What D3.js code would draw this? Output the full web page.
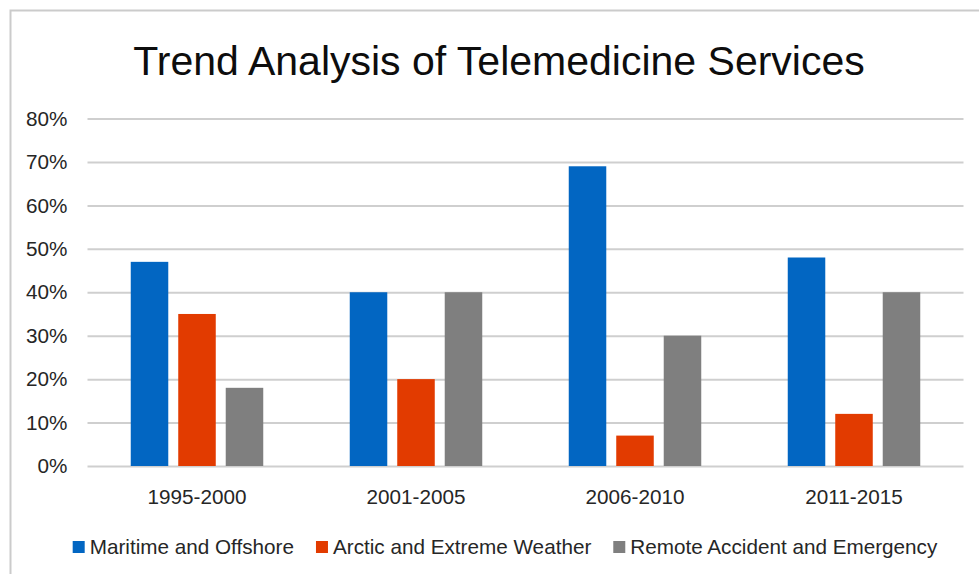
<!DOCTYPE html>
<html lang="en">
<head>
<meta charset="UTF-8">
<title>Trend Analysis of Telemedicine Services</title>
<script src="https://cdn.jsdelivr.net/npm/d3@7"></script>
<style>
    body{ margin:0; background:#fff; }
    .axis text{ font-family: "Liberation Sans", Arial, sans-serif; fill:#262626; }
    .grid line{ stroke:#cfcfcf; stroke-width:2; }
    .grid path{ display:none; }
</style>
</head>
<body>
<script>
    var width = 979, height = 574;

    var categories = ["1995-2000", "2001-2005", "2006-2010", "2011-2015"];
    var seriesNames = ["Maritime and Offshore", "Arctic and Extreme Weather", "Remote Accident and Emergency"];
    var maritime = [0.47, 0.40, 0.69, 0.48];
    var arctic = [0.35, 0.20, 0.07, 0.12];
    var remote = [0.18, 0.40, 0.30, 0.40];
    var colors = ["#0266c2", "#e23b00", "#7f7f7f"];
    var yTicks = [0, 0.1, 0.2, 0.3, 0.4, 0.5, 0.6, 0.7, 0.8];

    var seriesValues = [maritime, arctic, remote];

    var plot = {left: 87.5, right: 963.5, top: 118.5, bottom: 466};
    var labelSize = "20.7px";

    var svg = d3.select("body").append("svg")
        .attr("width", width)
        .attr("height", height);

    // outer chart frame (only top and left show in the window)
    svg.append("rect")
        .attr("x", 10.5).attr("y", 10.5)
        .attr("width", 1000).attr("height", 1000)
        .attr("fill", "#fff")
        .attr("stroke", "#cbcbcb")
        .attr("stroke-width", 2);

    svg.append("text")
        .attr("x", 499)
        .attr("y", 75)
        .attr("text-anchor", "middle")
        .style("font-family", "'Liberation Sans', Arial, sans-serif")
        .style("font-size", "41px")
        .style("fill", "#0d0d0d")
        .text("Trend Analysis of Telemedicine Services");

    var x0 = d3.scaleBand()
        .domain(categories)
        .range([plot.left, plot.right])
        .padding(0);

    var groupWidth = 132.5;
    var x1 = d3.scaleBand()
        .domain(d3.range(seriesNames.length))
        .range([0, groupWidth])
        .paddingInner(0.21)
        .paddingOuter(0);

    var y = d3.scaleLinear()
        .domain([0, 0.8])
        .range([plot.bottom, plot.top]);

    // gridlines
    svg.append("g")
        .attr("class", "grid")
        .attr("transform", "translate(" + plot.left + ",0)")
        .call(d3.axisLeft(y).tickValues(yTicks).tickSize(-(plot.right - plot.left)).tickFormat(""));

    // y axis labels
    var yAxis = svg.append("g")
        .attr("class", "axis")
        .attr("transform", "translate(" + plot.left + ",0)")
        .call(d3.axisLeft(y).tickValues(yTicks).tickSize(0).tickPadding(20).tickFormat(d3.format(".0%")));
    yAxis.select(".domain").remove();
    yAxis.selectAll("text").style("font-size", labelSize);

    // bars
    var groups = svg.selectAll(".cat")
        .data(categories)
        .enter().append("g")
        .attr("class", "cat")
        .attr("transform", function(d){
            return "translate(" + (x0(d) + (x0.bandwidth() - groupWidth) / 2) + ",0)";
        });

    groups.selectAll("rect")
        .data(function(d, i){
            return seriesValues.map(function(s, j){ return {s: j, v: s[i]}; });
        })
        .enter().append("rect")
        .attr("x", function(d){ return x1(d.s); })
        .attr("width", x1.bandwidth())
        .attr("y", function(d){ return y(d.v); })
        .attr("height", function(d){ return y(0) - y(d.v); })
        .attr("fill", function(d){ return colors[d.s]; });

    // x axis labels
    var xAxis = svg.append("g")
        .attr("class", "axis")
        .attr("transform", "translate(0," + plot.bottom + ")")
        .call(d3.axisBottom(x0).tickSize(0).tickPadding(23));
    xAxis.select(".domain").remove();
    xAxis.selectAll("text").style("font-size", labelSize);

    // legend
    var legend = svg.append("g").attr("class", "axis");
    var items = legend.selectAll("g")
        .data(seriesNames)
        .enter().append("g");
    items.append("rect")
        .attr("width", 12).attr("height", 12)
        .attr("y", 541)
        .attr("fill", function(d, i){ return colors[i]; });
    items.append("text")
        .attr("x", 17)
        .attr("y", 554)
        .style("font-size", labelSize)
        .text(function(d){ return d; });

    var pos = 0, offsets = [];
    items.each(function(){
        offsets.push(pos);
        pos += 17 + d3.select(this).select("text").node().getComputedTextLength() + 22;
    });
    var total = pos - 22;
    var startX = 505 - total / 2;
    items.attr("transform", function(d, i){ return "translate(" + (startX + offsets[i]) + ",0)"; });
</script>
</body>
</html>
